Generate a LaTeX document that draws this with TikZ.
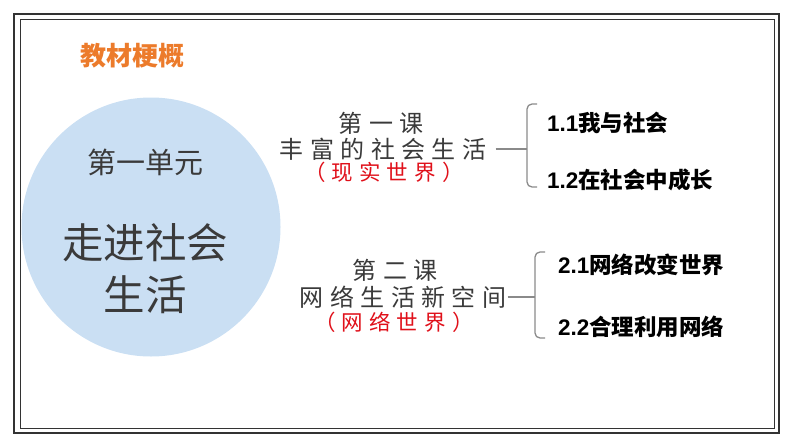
\documentclass[tikz,border=0pt]{standalone}
\usepackage{fontspec}
\usepackage{tikz}
\newfontfamily\cjk{Noto Sans CJK SC}
\newfontfamily\latn{Liberation Sans}
\definecolor{framegray}{HTML}{333333}
\definecolor{bubble}{HTML}{CADFF3}
\definecolor{titleorange}{HTML}{EC7B2B}
\definecolor{worldred}{HTML}{E0101A}
\definecolor{bracegray}{HTML}{8A8A8A}
\definecolor{txtgray}{HTML}{3A3A3A}
\newcommand{\gp}{\hspace{0.27em}}
\newcommand{\rgp}{\hspace{0.28em}}
\newcommand{\num}[1]{{\latn #1}}

\begin{document}
\begin{tikzpicture}[x=1pt,y=-1pt,
            unit/.style={font=\cjk\fontsize{29}{34}\selectfont,text=txtgray,inner sep=0pt},
            theme/.style={font=\cjk\fontsize{41.5}{48}\selectfont,text=txtgray,inner sep=0pt},
            lesson/.style={font=\cjk\fontsize{24}{28}\selectfont,text=txtgray,inner sep=0pt},
            world/.style={font=\cjk\fontsize{21.5}{25}\selectfont,text=worldred,inner sep=0pt},
            item/.style={font=\cjk\bfseries\fontsize{22.5}{26}\selectfont,anchor=west,inner sep=0pt},
            brace/.style={bracegray,line width=1.3pt,rounded corners=5pt}]

            \useasboundingbox (0,0) rectangle (794,447);

            % double frame
            \draw[framegray,line width=2.2pt] (14,14) rectangle (779,433);
            \draw[framegray,line width=0.9pt] (20,19) rectangle (774,428);

            \node[font=\cjk\bfseries\fontsize{26}{30}\selectfont,text=titleorange] (title) at (132,56) {教材梗概};

            % the unit, in its bubble
            \node[circle,fill=bubble,minimum size=259pt,inner sep=0pt] (bubble) at (151,227) {};
            \node[unit]  (u1) at (145,162) {第一单元};
            \node[theme] (u2) at (145,243) {走进社会};
            \node[theme] (u3) at (145,295) {生活};

            % lesson one and its two sections
            \node[lesson] (l1a) at (381,123) {第\gp 一\gp 课};
            \node[lesson] (l1b) at (383,149) {丰\gp 富\gp 的\gp 社\gp 会\gp 生\gp 活};
            \node[world]  (l1c) at (384,172) {（\rgp 现\rgp 实\rgp 世\rgp 界\rgp ）};
            \coordinate (b1) at (527,149);
            \draw[brace] ([xshift=9pt]l1b.east) -- (b1);
            \draw[brace] (537,104) -- (527,104) -- (527,187) -- (537,187);
            \node[item] (i11) at (547,123) {\num{1.1}我与社会};
            \node[item] (i12) at (547,180) {\num{1.2}在社会中成长};

            % lesson two and its two sections
            \node[lesson] (l2a) at (395,270) {第\gp 二\gp 课};
            \node[lesson] (l2b) at (403,297) {网\gp 络\gp 生\gp 活\gp 新\gp 空\gp 间};
            \node[world]  (l2c) at (394,322) {（\rgp 网\rgp 络\rgp 世\rgp 界\rgp ）};
            \coordinate (b2) at (535,297);
            \draw[brace] ([xshift=1pt]l2b.east) -- (b2);
            \draw[brace] (545,252) -- (535,252) -- (535,338) -- (545,338);
            \node[item] (i21) at (558,265) {\num{2.1}网络改变世界};
            \node[item] (i22) at (558,327) {\num{2.2}合理利用网络};
        \end{tikzpicture}
\end{document}
